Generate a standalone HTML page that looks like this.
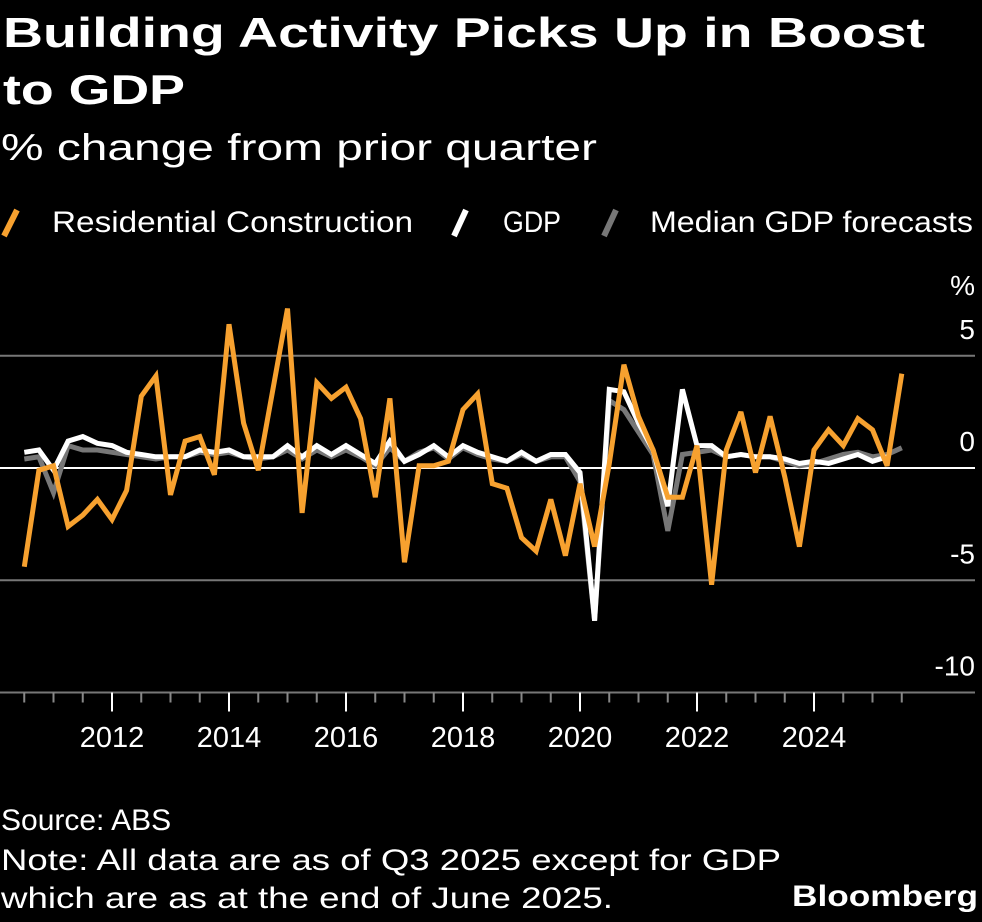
<!DOCTYPE html>
<html><head><meta charset="utf-8"><style>
html,body{margin:0;padding:0;background:#000;}
svg{display:block;font-family:"Liberation Sans",sans-serif;}
</style></head><body>
<svg id="chart" width="982" height="922" viewBox="0 0 982 922">
<rect width="982" height="922" fill="#000"/>
<text x="3" y="47" fill="#fff" font-size="42" font-weight="bold" textLength="922" lengthAdjust="spacingAndGlyphs">Building Activity Picks Up in Boost</text>
<text x="3" y="104" fill="#fff" font-size="42" font-weight="bold" textLength="182" lengthAdjust="spacingAndGlyphs">to GDP</text>
<text x="1" y="160" fill="#fff" font-size="37" textLength="596" lengthAdjust="spacingAndGlyphs">% change from prior quarter</text>
<g>
<line x1="4" y1="236" x2="17" y2="210" stroke="#f7a12f" stroke-width="6"/>
<text x="52" y="232" fill="#fff" font-size="30" textLength="361" lengthAdjust="spacingAndGlyphs">Residential Construction</text>
<line x1="244" y1="236" x2="256" y2="210" stroke="#fff" stroke-width="6" transform="translate(210,0)"/>
<text x="503" y="232" fill="#fff" font-size="30" textLength="58" lengthAdjust="spacingAndGlyphs">GDP</text>
<line x1="604" y1="236" x2="616" y2="210" stroke="#777" stroke-width="6"/>
<text x="650" y="232" fill="#fff" font-size="30" textLength="323" lengthAdjust="spacingAndGlyphs">Median GDP forecasts</text>
</g>
<text x="975" y="295" fill="#fff" font-size="28" text-anchor="end">%</text>
<g id="grid"></g><g id="xaxis"></g><g id="series"></g>
<text x="1" y="830" fill="#fff" font-size="30">Source: ABS</text>
<text x="1" y="870" fill="#fff" font-size="30" textLength="780" lengthAdjust="spacingAndGlyphs">Note: All data are as of Q3 2025 except for GDP</text>
<text x="1" y="908" fill="#fff" font-size="30" textLength="612" lengthAdjust="spacingAndGlyphs">which are as at the end of June 2025.</text>
<text x="978" y="906" fill="#fff" font-size="30" font-weight="bold" text-anchor="end" textLength="186" lengthAdjust="spacingAndGlyphs">Bloomberg</text>
</svg>
<script>
const startYear = 2010.5;
const residential = [-4.4,-0.1,0.1,-2.6,-2.1,-1.4,-2.3,-1.0,3.2,4.1,-1.2,1.2,1.4,-0.3,6.4,2.0,-0.1,3.5,7.1,-2.0,3.8,3.1,3.6,2.2,-1.3,3.1,-4.2,0.1,0.1,0.3,2.6,3.3,-0.7,-0.9,-3.1,-3.7,-1.4,-3.9,-0.7,-3.5,0.2,4.6,2.3,0.8,-1.3,-1.3,1.0,-5.2,0.8,2.5,-0.2,2.3,-0.4,-3.5,0.8,1.7,1.0,2.2,1.7,0.1,4.2];
const gdp = [0.7,0.8,-0.1,1.2,1.4,1.1,1.0,0.7,0.6,0.5,0.5,0.5,0.8,0.7,0.8,0.5,0.5,0.5,1.0,0.5,1.0,0.6,1.0,0.6,0.2,1.2,0.3,0.6,1.0,0.5,1.0,0.7,0.5,0.3,0.7,0.3,0.6,0.6,-0.2,-6.8,3.5,3.4,2.0,0.8,-1.7,3.5,1.0,1.0,0.5,0.6,0.5,0.5,0.4,0.2,0.3,0.2,0.4,0.6,0.3,0.5];
const forecast = [0.4,0.5,-1.1,1.0,0.8,0.8,0.7,0.6,0.5,0.4,0.5,0.5,0.7,0.6,0.7,0.5,0.4,0.5,0.8,0.4,0.8,0.5,0.8,0.5,0.1,0.9,0.3,0.7,0.9,0.4,0.9,0.6,0.4,0.3,0.6,0.3,0.5,0.5,-0.6,-6.8,3.0,2.6,1.6,0.6,-2.8,0.6,0.7,0.8,0.5,0.6,0.5,0.5,0.3,0.1,0.2,0.4,0.6,0.7,0.5,0.6,0.9];
const yTicks = [5,0,-5,-10];
const yearLabels = [2012,2014,2016,2018,2020,2022,2024];
const NS='http://www.w3.org/2000/svg';
const yScale = v => 468 - v*22.45;
const xScale = t => 112 + (t-2012)*58.5;
function mk(tag, attrs, parent){const e=document.createElementNS(NS,tag);for(const k in attrs)e.setAttribute(k,attrs[k]);parent.appendChild(e);return e;}
const grid=document.getElementById('grid'), xa=document.getElementById('xaxis'), ser=document.getElementById('series');
yTicks.forEach(v=>{
  const y=yScale(v);
  const l=mk('line',{x1:0,x2:975,y1:y,y2:y,stroke:v===0?'#fff':'#777','stroke-width':v===0?2:2},grid);
  
  
  const t=mk('text',{x:975,y:y-17,fill:'#fff','font-size':28,'text-anchor':'end'},grid);
  t.textContent=String(v);
  
  
});
for(let t=2010.5;t<=2025.6;t+=0.5){
  const x=xScale(t); const major=yearLabels.includes(t);
  const l=mk('line',{x1:x,x2:x,y1:yScale(-10),y2:yScale(-10)+(major?19:10),stroke:major?'#fff':'#888','stroke-width':2},xa);
  
  
}
yearLabels.forEach(yr=>{
  const t=mk('text',{x:xScale(yr),y:747,fill:'#fff','font-size':29,'text-anchor':'middle'},xa);
  t.textContent=String(yr);
  
  
});
function line(data,color,w,name){
  const pts=data.map((v,i)=>xScale(startYear+i*0.25).toFixed(1)+','+yScale(v).toFixed(1)).join(' ');
  const p=mk('polyline',{points:pts,fill:'none',stroke:color,'stroke-width':w,'stroke-linejoin':'miter','stroke-miterlimit':3},ser);
  
  
}
line(forecast,'#777',5,'forecast-line');
line(gdp,'#fff',5,'gdp-line');
line(residential,'#f7a12f',5,'residential-line');
</script>
</body></html>
